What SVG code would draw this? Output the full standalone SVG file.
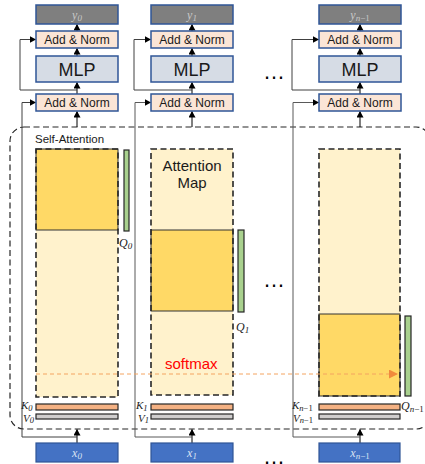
<svg xmlns="http://www.w3.org/2000/svg" width="425" height="464" viewBox="0 0 425 464">
<style>
.ybox{fill:#7F7F7F;stroke:#2F5597;stroke-width:1.5}
.an{fill:#FBE5D6;stroke:#2F5597;stroke-width:1.5}
.mlp{fill:#D6DCE5;stroke:#2F5597;stroke-width:1.5}
.xbox{fill:#4472C4;stroke:#2F5597;stroke-width:1.2}
.t{font-family:"Liberation Sans",Arial,sans-serif;fill:#1a1a1a;text-anchor:middle}
.m{font-family:"Liberation Serif","Times New Roman",serif;font-style:italic}
.light{fill:#FFF2CC;stroke:none}
.dashr{fill:none;stroke:#262626;stroke-width:1.6;stroke-dasharray:6,3.5}
.dark{fill:#FFD966;stroke:#333;stroke-width:1}
.green{fill:#A9D18E;stroke:#262626;stroke-width:1.2}
.kbar{fill:#F4B183;stroke:#262626;stroke-width:1.2}
.vbar{fill:#D0CECE;stroke:#262626;stroke-width:1.2}
.ln{fill:none;stroke:#404040;stroke-width:1}
.lg{fill:none;stroke:#595959;stroke-width:1}
.arr{fill:none;stroke:#000;stroke-width:1;marker-end:url(#ah)}
</style>
<defs>
<marker id="ah" markerUnits="userSpaceOnUse" markerWidth="7" markerHeight="7" refX="6" refY="3.5" orient="auto">
<path d="M0,0 L6.5,3.5 L0,7 z" fill="#000"/>
</marker>
<marker id="oh" markerUnits="userSpaceOnUse" markerWidth="10" markerHeight="9" refX="9" refY="4.5" orient="auto">
<path d="M0,0 L9,4.5 L0,9 z" fill="#F08A3C"/>
</marker>
</defs>
<rect width="425" height="464" fill="#fff"/>

<!-- container -->
<g id="self-attention">
<rect x="10" y="127" width="420" height="302" rx="14" fill="none" stroke="#262626" stroke-width="1.2" stroke-dasharray="6,3.5"/>
<text x="35" y="143" class="t" style="text-anchor:start;font-size:11.5px">Self-Attention</text>
</g>

<!-- connectors -->
<g id="connectors">
<!-- column 0 -->
<line x1="77" y1="31" x2="77" y2="24.5" class="arr"/>
<line x1="77" y1="56" x2="77" y2="48.5" class="arr"/>
<line x1="77" y1="94" x2="77" y2="82.5" class="arr"/>
<line x1="77" y1="127" x2="77" y2="111.5" class="arr"/>
<line x1="77" y1="443" x2="77" y2="429.5" class="arr"/>
<path d="M77,90 H20 V39.5 H35.5" class="ln" marker-end="url(#ah)"/>
<path d="M77,437 H22 V102.5 H35.5" class="ln" marker-end="url(#ah)"/>
<!-- column 1 -->
<line x1="192" y1="31" x2="192" y2="24.5" class="arr"/>
<line x1="192" y1="56" x2="192" y2="48.5" class="arr"/>
<line x1="192" y1="94" x2="192" y2="82.5" class="arr"/>
<line x1="192" y1="127" x2="192" y2="111.5" class="arr"/>
<line x1="192" y1="443" x2="192" y2="429.5" class="arr"/>
<path d="M192,90 H134 V39.5 H150.5" class="ln" marker-end="url(#ah)"/>
<path d="M192,437 H135 V102.5 H150.5" class="lg" marker-end="url(#ah)"/>
<!-- column 2 -->
<line x1="360" y1="31" x2="360" y2="24.5" class="arr"/>
<line x1="360" y1="56" x2="360" y2="48.5" class="arr"/>
<line x1="360" y1="94" x2="360" y2="82.5" class="arr"/>
<line x1="360" y1="127" x2="360" y2="111.5" class="arr"/>
<line x1="360" y1="443" x2="360" y2="429.5" class="arr"/>
<path d="M360,90 H292 V39.5 H318.5" class="ln" marker-end="url(#ah)"/>
<path d="M360,437 H293 V102.5 H318.5" class="lg" marker-end="url(#ah)"/>
</g>

<!-- column 0 nodes -->
<g id="y0"><rect x="36" y="5" width="82" height="19" class="ybox"/><text x="77" y="19" class="m" fill="#C8C8C8" font-size="12" text-anchor="middle">y<tspan font-size="9" dy="2">0</tspan></text></g>
<g id="addnorm-top-0"><rect x="36" y="31" width="82" height="17" class="an"/><text x="77" y="44" class="t" font-size="12">Add &amp; Norm</text></g>
<g id="mlp-0"><rect x="36" y="56" width="82" height="26" class="mlp"/><text x="77" y="75.5" class="t" font-size="18">MLP</text></g>
<g id="addnorm-bot-0"><rect x="36" y="94" width="82" height="17" class="an"/><text x="77" y="107" class="t" font-size="12">Add &amp; Norm</text></g>
<g id="attn-0">
<rect x="36" y="149" width="82" height="248" class="light"/>
<rect x="36" y="149" width="82" height="81" class="dark"/>
<rect x="36" y="149" width="82" height="248" class="dashr"/>
</g>
<g id="q0"><rect x="124" y="150" width="5" height="81" class="green"/><text x="119" y="247" class="m" font-size="12" fill="#222">Q<tspan font-size="9" dy="2">0</tspan></text></g>
<g id="k0"><rect x="36" y="404" width="82" height="6" class="kbar"/><text x="21" y="409" class="m" font-size="11" fill="#222">K<tspan font-size="8.5" dy="1.5">0</tspan></text></g>
<g id="v0"><rect x="36" y="414" width="82" height="5" class="vbar"/><text x="23" y="421.5" class="m" font-size="11" fill="#222">V<tspan font-size="8.5" dy="1.5">0</tspan></text></g>
<g id="x0"><rect x="36" y="443" width="82" height="19" class="xbox"/><text x="77" y="457" class="m" fill="#DAE3F3" font-size="12" text-anchor="middle">x<tspan font-size="9" dy="2">0</tspan></text></g>

<!-- column 1 nodes -->
<g id="y1"><rect x="151" y="5" width="82" height="19" class="ybox"/><text x="192" y="19" class="m" fill="#C8C8C8" font-size="12" text-anchor="middle">y<tspan font-size="9" dy="2">1</tspan></text></g>
<g id="addnorm-top-1"><rect x="151" y="31" width="82" height="17" class="an"/><text x="192" y="44" class="t" font-size="12">Add &amp; Norm</text></g>
<g id="mlp-1"><rect x="151" y="56" width="82" height="26" class="mlp"/><text x="192" y="75.5" class="t" font-size="18">MLP</text></g>
<g id="addnorm-bot-1"><rect x="151" y="94" width="82" height="17" class="an"/><text x="192" y="107" class="t" font-size="12">Add &amp; Norm</text></g>
<g id="attn-1">
<rect x="151" y="149" width="82" height="246" class="light"/>
<rect x="151" y="230" width="82" height="81" class="dark"/>
<rect x="151" y="149" width="82" height="246" class="dashr"/>
<text x="192" y="171" class="t" font-size="15">Attention</text>
<text x="192" y="188" class="t" font-size="15">Map</text>
</g>
<g id="q1"><rect x="238" y="230" width="6" height="82" class="green"/><text x="236" y="331" class="m" font-size="12" fill="#222">Q<tspan font-size="9" dy="2">1</tspan></text></g>
<g id="k1"><rect x="151" y="404" width="82" height="6" class="kbar"/><text x="136" y="409" class="m" font-size="11" fill="#222">K<tspan font-size="8.5" dy="1.5">1</tspan></text></g>
<g id="v1"><rect x="151" y="414" width="82" height="5" class="vbar"/><text x="138" y="421.5" class="m" font-size="11" fill="#222">V<tspan font-size="8.5" dy="1.5">1</tspan></text></g>
<g id="x1"><rect x="151" y="443" width="82" height="19" class="xbox"/><text x="192" y="457" class="m" fill="#DAE3F3" font-size="12" text-anchor="middle">x<tspan font-size="9" dy="2">1</tspan></text></g>

<!-- column 2 nodes -->
<g id="yn"><rect x="319" y="5" width="82" height="19" class="ybox"/><text x="360" y="19" class="m" fill="#C8C8C8" font-size="12" text-anchor="middle">y<tspan font-size="9" dy="2">n</tspan><tspan font-size="9" font-style="normal">−1</tspan></text></g>
<g id="addnorm-top-n"><rect x="319" y="31" width="82" height="17" class="an"/><text x="360" y="44" class="t" font-size="12">Add &amp; Norm</text></g>
<g id="mlp-n"><rect x="319" y="56" width="82" height="26" class="mlp"/><text x="360" y="75.5" class="t" font-size="18">MLP</text></g>
<g id="addnorm-bot-n"><rect x="319" y="94" width="82" height="17" class="an"/><text x="360" y="107" class="t" font-size="12">Add &amp; Norm</text></g>
<g id="attn-n">
<rect x="319" y="149" width="81" height="247" class="light"/>
<rect x="319" y="314" width="81" height="82" class="dark"/>
<rect x="319" y="149" width="81" height="247" class="dashr"/>
</g>
<g id="qn"><rect x="405" y="316" width="6" height="80" class="green"/><text x="401" y="410" class="m" font-size="12" fill="#222">Q<tspan font-size="9" dy="2">n</tspan><tspan font-size="9" font-style="normal">−1</tspan></text></g>
<g id="kn"><rect x="319" y="404" width="81" height="6" class="kbar"/><text x="292" y="409" class="m" font-size="11" fill="#222">K<tspan font-size="8.5" dy="1.5">n</tspan><tspan font-size="8.5" font-style="normal">−1</tspan></text></g>
<g id="vn"><rect x="319" y="414" width="81" height="5" class="vbar"/><text x="293" y="421.5" class="m" font-size="11" fill="#222">V<tspan font-size="8.5" dy="1.5">n</tspan><tspan font-size="8.5" font-style="normal">−1</tspan></text></g>
<g id="xn"><rect x="319" y="443" width="81" height="19" class="xbox"/><text x="360" y="457" class="m" fill="#DAE3F3" font-size="12" text-anchor="middle">x<tspan font-size="9" dy="2">n</tspan><tspan font-size="9" font-style="normal">−1</tspan></text></g>

<!-- softmax -->
<g id="softmax">
<line x1="36" y1="374" x2="398" y2="374" stroke="#F4A460" stroke-width="1" stroke-dasharray="4,3" marker-end="url(#oh)"/>
<text x="165" y="369" font-family="Liberation Sans,Arial,sans-serif" font-size="15" fill="#FF0000">softmax</text>
</g>

<!-- ellipses -->
<g id="dots" font-family="Liberation Sans,Arial,sans-serif" font-size="22" fill="#000">
<text x="263" y="79">…</text>
<text x="263" y="287">…</text>
<text x="263" y="463.5">…</text>
</g>
</svg>
